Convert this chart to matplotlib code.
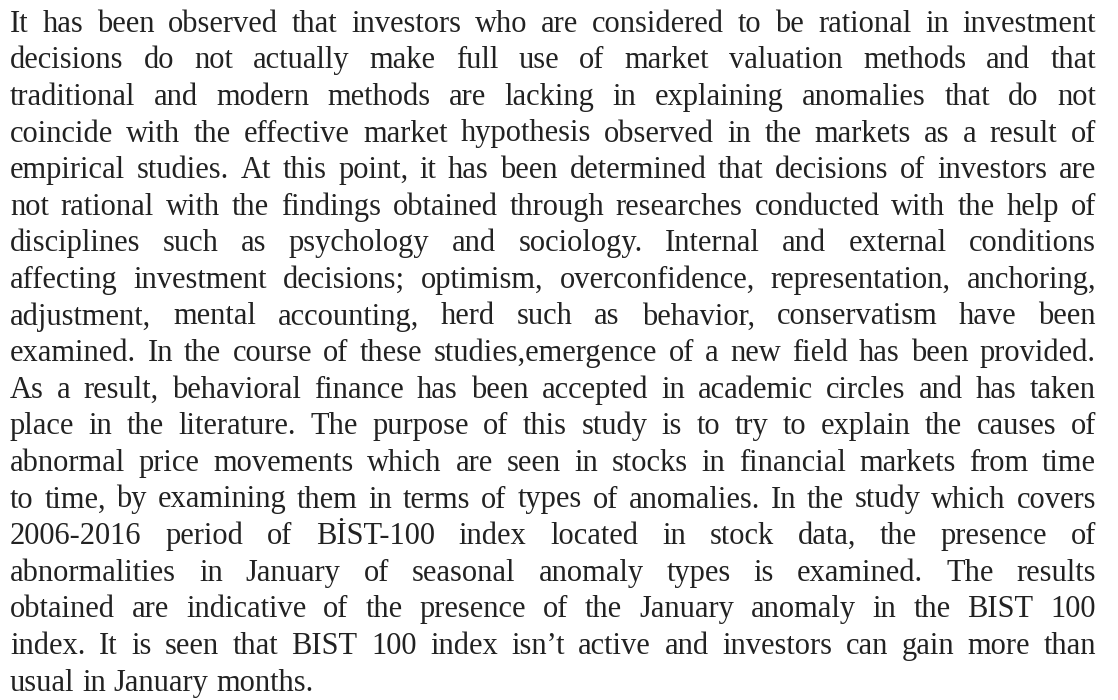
import matplotlib
matplotlib.use('Agg')
import matplotlib.pyplot as plt

# text of the paragraph, one entry per printed line
lines = [
    "It has been observed that investors who are considered to be rational in investment",
    "decisions do not actually make full use of market valuation methods and that",
    "traditional and modern methods are lacking in explaining anomalies that do not",
    "coincide with the effective market hypothesis observed in the markets as a result of",
    "empirical studies. At this point, it has been determined that decisions of investors are",
    "not rational with the findings obtained through researches conducted with the help of",
    "disciplines such as psychology and sociology. Internal and external conditions",
    "affecting investment decisions; optimism, overconfidence, representation, anchoring,",
    "adjustment, mental accounting, herd such as behavior, conservatism have been",
    "examined. In the course of these studies,emergence of a new field has been provided.",
    "As a result, behavioral finance has been accepted in academic circles and has taken",
    "place in the literature. The purpose of this study is to try to explain the causes of",
    "abnormal price movements which are seen in stocks in financial markets from time",
    "to time, by examining them in terms of types of anomalies. In the study which covers",
    "2006-2016 period of BİST-100 index located in stock data, the presence of",
    "abnormalities in January of seasonal anomaly types is examined. The results",
    "obtained are indicative of the presence of the January anomaly in the BIST 100",
    "index. It is seen that BIST 100 index isn\u2019t active and investors can gain more than",
    "usual in January months.",
]

W, H = 1118, 700
left, right = 10, 1096      # text block edges (px)
first_base = 31.7           # baseline of first line (px)
leading = 36.6              # line spacing (px)
fsize = 22

fig = plt.figure(figsize=(W / 100, H / 100), dpi=100)
ax = fig.add_axes([0, 0, 1, 1])
ax.set_xlim(0, W)
ax.set_ylim(H, 0)
ax.axis('off')

fig.canvas.draw()
renderer = fig.canvas.get_renderer()
space = 0.25 * fsize * 100 / 72

for i, line in enumerate(lines):
    y = first_base + i * leading
    words = line.split(' ')
    texts = [ax.text(0, y, w, family='Liberation Serif', fontsize=fsize,
                     color='#222222', ha='left', va='baseline') for w in words]
    widths = [t.get_window_extent(renderer).width for t in texts]
    if i < len(lines) - 1 and len(words) > 1:
        gap = (right - left - sum(widths)) / (len(words) - 1)
    else:
        gap = space
    x = left
    for t, wd in zip(texts, widths):
        t.set_x(x)
        x += wd + gap

fig.savefig('out.png', dpi=100, facecolor='white')
